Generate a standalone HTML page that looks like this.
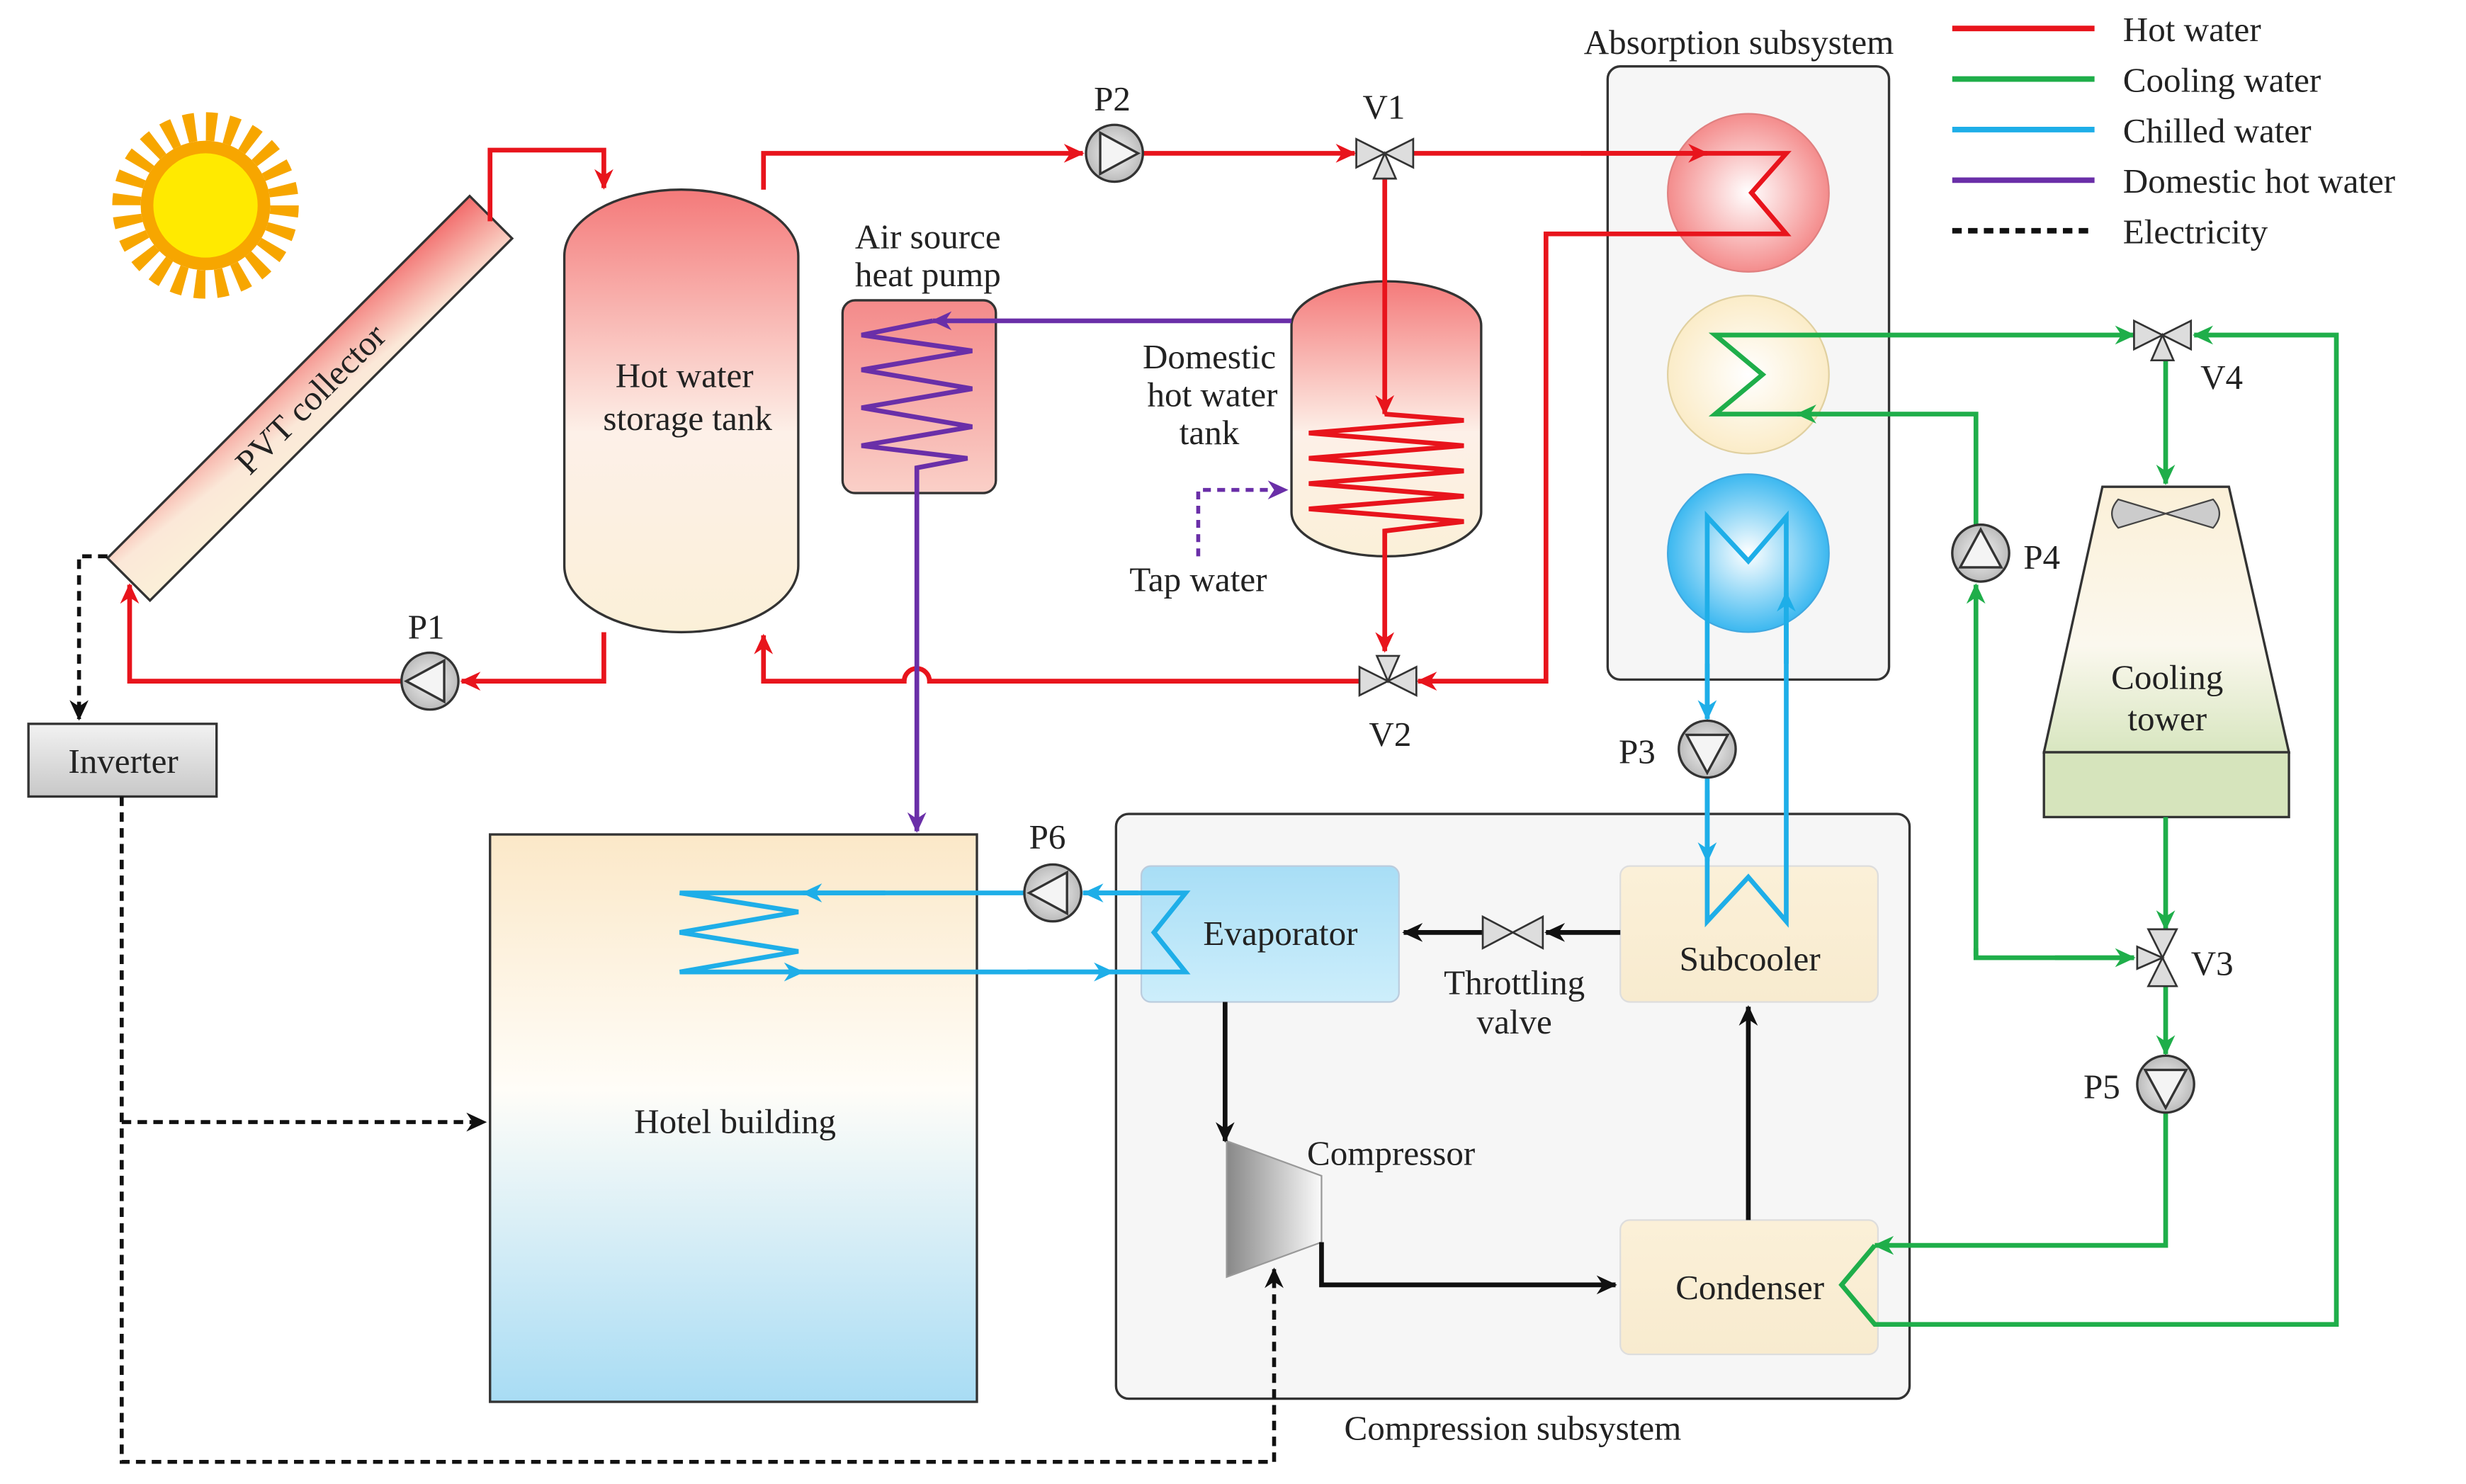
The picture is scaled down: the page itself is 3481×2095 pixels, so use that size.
<!DOCTYPE html>
<html><head><meta charset="utf-8"><style>html,body{margin:0;padding:0;background:#fff}svg{display:block}text{font-family:"Liberation Serif",serif;fill:#222}</style></head>
<body>
<svg width="3481" height="2095" viewBox="0 0 1560 939" preserveAspectRatio="none" xmlns="http://www.w3.org/2000/svg">
<defs>
<marker id="aR" markerUnits="userSpaceOnUse" markerWidth="14" markerHeight="12" refX="12" refY="6" orient="auto"><path d="M0,0 L13,6 L0,12 L4,6z" fill="#e8141c"/></marker>
<marker id="aG" markerUnits="userSpaceOnUse" markerWidth="14" markerHeight="12" refX="12" refY="6" orient="auto"><path d="M0,0 L13,6 L0,12 L4,6z" fill="#1fae4a"/></marker>
<marker id="aB" markerUnits="userSpaceOnUse" markerWidth="14" markerHeight="12" refX="12" refY="6" orient="auto"><path d="M0,0 L13,6 L0,12 L4,6z" fill="#1eaee8"/></marker>
<marker id="aP" markerUnits="userSpaceOnUse" markerWidth="14" markerHeight="12" refX="12" refY="6" orient="auto"><path d="M0,0 L13,6 L0,12 L4,6z" fill="#6a2fa8"/></marker>
<marker id="aK" markerUnits="userSpaceOnUse" markerWidth="14" markerHeight="12" refX="12" refY="6" orient="auto"><path d="M0,0 L13,6 L0,12 L4,6z" fill="#111"/></marker>
<linearGradient id="gTank" x1="0" y1="0" x2="0" y2="1"><stop offset="0" stop-color="#f47a7a"/><stop offset="0.55" stop-color="#fdf0e8"/><stop offset="1" stop-color="#fbf0d8"/></linearGradient>
<linearGradient id="gPVT" x1="1" y1="0" x2="0" y2="1"><stop offset="0" stop-color="#f26a6a"/><stop offset="0.6" stop-color="#fbe8d8"/><stop offset="1" stop-color="#fbf0d8"/></linearGradient>
<linearGradient id="gHotel" x1="0" y1="0" x2="0" y2="1"><stop offset="0" stop-color="#fbe8c8"/><stop offset="0.45" stop-color="#fffdf8"/><stop offset="1" stop-color="#a8dcf4"/></linearGradient>
<linearGradient id="gTower" x1="0" y1="0" x2="0" y2="1"><stop offset="0" stop-color="#fbf0d8"/><stop offset="0.6" stop-color="#fbf8ee"/><stop offset="1" stop-color="#d8e6c0"/></linearGradient>
<linearGradient id="gInv" x1="0" y1="0" x2="0" y2="1"><stop offset="0" stop-color="#f2f2f2"/><stop offset="1" stop-color="#c8c8c8"/></linearGradient>
<linearGradient id="gComp" x1="0" y1="0" x2="1" y2="0"><stop offset="0" stop-color="#888"/><stop offset="1" stop-color="#fafafa"/></linearGradient>
<linearGradient id="gAS" x1="0" y1="0" x2="0" y2="1"><stop offset="0" stop-color="#f48a8a"/><stop offset="1" stop-color="#fad0c8"/></linearGradient>
<radialGradient id="cR"><stop offset="0" stop-color="#fff"/><stop offset="1" stop-color="#f48c8c"/></radialGradient>
<radialGradient id="cY"><stop offset="0" stop-color="#fff"/><stop offset="1" stop-color="#fbecc8"/></radialGradient>
<radialGradient id="cB"><stop offset="0" stop-color="#fff"/><stop offset="1" stop-color="#3cb8f0"/></radialGradient>
<radialGradient id="gPump"><stop offset="0" stop-color="#f4f4f4"/><stop offset="1" stop-color="#bbb"/></radialGradient>
<linearGradient id="gSub" x1="0" y1="0" x2="0" y2="1"><stop offset="0" stop-color="#fbf0d8"/><stop offset="1" stop-color="#f8ebcf"/></linearGradient>
<linearGradient id="gEva" x1="0" y1="0" x2="0" y2="1"><stop offset="0" stop-color="#a8def6"/><stop offset="1" stop-color="#cdeefb"/></linearGradient>
</defs>

<circle cx="130" cy="130" r="50" fill="none" stroke="#f7a600" stroke-width="18" stroke-dasharray="6.5 6.6"/>
<circle cx="130" cy="130" r="41" fill="#f7a600"/>
<circle cx="130" cy="130" r="33" fill="#ffea00"/>

<g transform="translate(196,252) rotate(-45)">
<rect x="-162" y="-19" width="324" height="38" fill="url(#gPVT)" stroke="#333" stroke-width="1.5"/>
<text x="0" y="8" text-anchor="middle" font-size="22">PVT collector</text>
</g>

<g stroke-width="3.5">
<line x1="1235" y1="18" x2="1325" y2="18" stroke="#e8141c"/>
<line x1="1235" y1="50" x2="1325" y2="50" stroke="#1fae4a"/>
<line x1="1235" y1="82" x2="1325" y2="82" stroke="#1eaee8"/>
<line x1="1235" y1="114" x2="1325" y2="114" stroke="#6a2fa8"/>
<line x1="1235" y1="146" x2="1325" y2="146" stroke="#111" stroke-dasharray="6 4"/>
</g>
<g font-size="22">
<text x="1343" y="26">Hot water</text>
<text x="1343" y="58">Cooling water</text>
<text x="1343" y="90">Chilled water</text>
<text x="1343" y="122">Domestic hot water</text>
<text x="1343" y="154">Electricity</text>
</g>

<text x="1100" y="34" text-anchor="middle" font-size="22">Absorption subsystem</text>
<rect x="1017" y="42" width="178" height="388" rx="8" fill="#f6f6f6" stroke="#333" stroke-width="1.5"/>
<ellipse cx="1106" cy="122" rx="51" ry="50" fill="url(#cR)" stroke="#e08080"/>
<ellipse cx="1106" cy="237" rx="51" ry="50" fill="url(#cY)" stroke="#e0d0a0"/>
<ellipse cx="1106" cy="350" rx="51" ry="50" fill="url(#cB)" stroke="#40a8e0"/>

<rect x="357" y="120" width="148" height="280" rx="74" ry="42" fill="url(#gTank)" stroke="#333" stroke-width="1.5"/>
<text x="433" y="245" text-anchor="middle" font-size="22">Hot water</text>
<text x="435" y="272" text-anchor="middle" font-size="22">storage tank</text>

<text x="587" y="157" text-anchor="middle" font-size="22">Air source</text>
<text x="587" y="181" text-anchor="middle" font-size="22">heat pump</text>
<rect x="533" y="190" width="97" height="122" rx="8" fill="url(#gAS)" stroke="#333" stroke-width="1.5"/>

<rect x="817" y="178" width="120" height="174" rx="60" ry="28" fill="url(#gTank)" stroke="#333" stroke-width="1.5"/>
<text x="765" y="233" text-anchor="middle" font-size="22">Domestic</text>
<text x="767" y="257" text-anchor="middle" font-size="22">hot water</text>
<text x="765" y="281" text-anchor="middle" font-size="22">tank</text>
<text x="758" y="374" text-anchor="middle" font-size="22">Tap water</text>

<polygon points="1330,308 1410,308 1448,476 1293,476" fill="url(#gTower)" stroke="#333" stroke-width="1.5"/>
<rect x="1293" y="476" width="155" height="41" fill="#d6e4bc" stroke="#333" stroke-width="1.5"/>
<path d="M1370,325 L1340,316 Q1332,325 1340,334 Z M1370,325 L1400,316 Q1408,325 1400,334 Z" fill="#ccc" stroke="#444"/>
<text x="1371" y="436" text-anchor="middle" font-size="22">Cooling</text>
<text x="1371" y="462" text-anchor="middle" font-size="22">tower</text>

<rect x="18" y="458" width="119" height="46" fill="url(#gInv)" stroke="#333" stroke-width="1.5"/>
<text x="78" y="489" text-anchor="middle" font-size="22">Inverter</text>

<rect x="310" y="528" width="308" height="359" fill="url(#gHotel)" stroke="#333" stroke-width="1.5"/>
<text x="465" y="717" text-anchor="middle" font-size="22">Hotel building</text>

<rect x="706" y="515" width="502" height="370" rx="8" fill="#f6f6f6" stroke="#333" stroke-width="1.5"/>
<text x="957" y="911" text-anchor="middle" font-size="22">Compression subsystem</text>
<rect x="722" y="548" width="163" height="86" rx="6" fill="url(#gEva)" stroke="#bcd"/>
<rect x="1025" y="548" width="163" height="86" rx="6" fill="url(#gSub)" stroke="#ddd"/>
<rect x="1025" y="772" width="163" height="85" rx="6" fill="url(#gSub)" stroke="#ddd"/>
<text x="810" y="598" text-anchor="middle" font-size="22">Evaporator</text>
<text x="1107" y="614" text-anchor="middle" font-size="22">Subcooler</text>
<text x="1107" y="822" text-anchor="middle" font-size="22">Condenser</text>
<text x="958" y="629" text-anchor="middle" font-size="22">Throttling</text>
<text x="958" y="654" text-anchor="middle" font-size="22">valve</text>
<polygon points="776,722 836,744 836,786 776,808" fill="url(#gComp)" stroke="#999"/>
<text x="880" y="737" text-anchor="middle" font-size="22">Compressor</text>

<g stroke="#111" stroke-width="3" fill="none">
<line x1="775" y1="634" x2="775" y2="722" marker-end="url(#aK)"/>
<polyline points="836,786 836,813 1022,813" marker-end="url(#aK)"/>
<line x1="1106" y1="772" x2="1106" y2="637" marker-end="url(#aK)"/>
<line x1="1025" y1="590" x2="978" y2="590" marker-end="url(#aK)"/>
<line x1="938" y1="590" x2="888" y2="590" marker-end="url(#aK)"/>
</g>
<g fill="#ddd" stroke="#333" stroke-width="1.2">
<polygon points="938,580 938,600 957,590"/><polygon points="976,580 976,600 957,590"/>
</g>

<g stroke="#111" stroke-width="2.5" fill="none" stroke-dasharray="6 4">
<polyline points="68,352 50,352 50,455" marker-end="url(#aK)"/>
<polyline points="77,504 77,925 806,925 806,803" marker-end="url(#aK)"/>
<line x1="77" y1="710" x2="307" y2="710" marker-end="url(#aK)"/>
</g>
<polyline points="758,352 758,310 814,310" fill="none" stroke="#6a2fa8" stroke-width="2.5" stroke-dasharray="5 4" marker-end="url(#aP)"/>

<g stroke="#e8141c" stroke-width="3" fill="none">
<polyline points="310,140 310,95 382,95 382,119" marker-end="url(#aR)"/>
<polyline points="483,120 483,97 685,97" marker-end="url(#aR)"/>
<line x1="723" y1="97" x2="857" y2="97" marker-end="url(#aR)"/>
<line x1="894" y1="97" x2="1080" y2="97"/>
<line x1="1000" y1="97" x2="1080" y2="97" marker-end="url(#aR)"/>
<polyline points="1080,97 1130,97 1108,122 1130,148 978,148 978,431 897,431" marker-end="url(#aR)"/>
<line x1="876" y1="112" x2="876" y2="262" marker-end="url(#aR)"/>
<polyline points="876,262 926,266 828,274 926,282 828,290 926,298 828,306 926,314 828,322 926,330 876,336 876,412" marker-end="url(#aR)"/>
<path d="M860,431 L588,431 A8,8 0 0 0 572,431 L483,431 L483,402" marker-end="url(#aR)"/>
<polyline points="382,400 382,431 292,431" marker-end="url(#aR)"/>
<polyline points="254,431 82,431 82,370" marker-end="url(#aR)"/>
</g>

<g stroke="#6a2fa8" stroke-width="3" fill="none">
<polyline points="817,203 590,203" marker-end="url(#aP)"/>
<polyline points="590,203 545,212 615,222 545,234 615,246 545,258 615,270 545,282 612,290 580,296 580,526" marker-end="url(#aP)"/>
</g>

<g stroke="#1eaee8" stroke-width="3" fill="none">
<polyline points="1080,492 1080,583 1106,555 1130,583 1130,327 1106,355 1080,327 1080,455" />
<line x1="1080" y1="420" x2="1080" y2="455" marker-end="url(#aB)"/>
<line x1="1080" y1="500" x2="1080" y2="545" marker-end="url(#aB)"/>
<line x1="1130" y1="420" x2="1130" y2="375" marker-end="url(#aB)"/>
<polyline points="703,615 750,615 730,590 750,565 685,565"/>
<line x1="720" y1="565" x2="686" y2="565" marker-end="url(#aB)"/>
<polyline points="648,565 430,565 505,577 430,590 505,602 430,615 703,615"/>
<line x1="560" y1="565" x2="508" y2="565" marker-end="url(#aB)"/>
<line x1="470" y1="615" x2="508" y2="615" marker-end="url(#aB)"/>
<line x1="650" y1="615" x2="704" y2="615" marker-end="url(#aB)"/>
</g>

<g stroke="#1fae4a" stroke-width="3" fill="none">
<polyline points="1140,262 1085,262 1115,237 1085,212 1350,212" marker-end="url(#aG)"/>
<polyline points="1250,332 1250,262 1137,262" marker-end="url(#aG)"/>
<line x1="1250" y1="605" x2="1250" y2="370" marker-end="url(#aG)"/>
<polyline points="1350,606 1250,606 1250,600"/>
<line x1="1300" y1="606" x2="1350" y2="606" marker-end="url(#aG)"/>
<line x1="1370" y1="228" x2="1370" y2="306" marker-end="url(#aG)"/>
<line x1="1370" y1="517" x2="1370" y2="588" marker-end="url(#aG)"/>
<line x1="1370" y1="624" x2="1370" y2="667" marker-end="url(#aG)"/>
<polyline points="1370,704 1370,788 1186,788" marker-end="url(#aG)"/>
<polyline points="1186,788 1165,813 1186,838 1478,838 1478,212 1388,212" marker-end="url(#aG)"/>
</g>

<g fill="#ddd" stroke="#333" stroke-width="1.2">
<g transform="translate(876,97)"><polygon points="-18,-9 -18,9 0,0"/><polygon points="18,-9 18,9 0,0"/><polygon points="0,0 -7,16 7,16"/></g>
<g transform="translate(878,431) rotate(180)"><polygon points="-18,-9 -18,9 0,0"/><polygon points="18,-9 18,9 0,0"/><polygon points="0,0 -7,16 7,16"/></g>
<g transform="translate(1368,212)"><polygon points="-18,-9 -18,9 0,0"/><polygon points="18,-9 18,9 0,0"/><polygon points="0,0 -7,16 7,16"/></g>
<g transform="translate(1368,606) rotate(90)"><polygon points="-18,-9 -18,9 0,0"/><polygon points="18,-9 18,9 0,0"/><polygon points="0,0 -7,16 7,16"/></g>
</g>
<g font-size="22">
<text x="862" y="75">V1</text>
<text x="866" y="472">V2</text>
<text x="1386" y="617">V3</text>
<text x="1392" y="246">V4</text>
</g>

<g fill="url(#gPump)" stroke="#333" stroke-width="1.5">
<g transform="translate(272,431) rotate(180)"><circle r="18"/><polygon points="15,0 -9,-13 -9,13" fill="#f4f4f4"/></g>
<g transform="translate(705,97)"><circle r="18"/><polygon points="15,0 -9,-13 -9,13" fill="#f4f4f4"/></g>
<g transform="translate(1080,474) rotate(90)"><circle r="18"/><polygon points="15,0 -9,-13 -9,13" fill="#f4f4f4"/></g>
<g transform="translate(1253,350) rotate(-90)"><circle r="18"/><polygon points="15,0 -9,-13 -9,13" fill="#f4f4f4"/></g>
<g transform="translate(1370,686) rotate(90)"><circle r="18"/><polygon points="15,0 -9,-13 -9,13" fill="#f4f4f4"/></g>
<g transform="translate(666,565) rotate(180)"><circle r="18"/><polygon points="15,0 -9,-13 -9,13" fill="#f4f4f4"/></g>
</g>
<g font-size="22">
<text x="258" y="404">P1</text>
<text x="692" y="70">P2</text>
<text x="1024" y="483">P3</text>
<text x="1280" y="360">P4</text>
<text x="1318" y="695">P5</text>
<text x="651" y="537">P6</text>
</g>
</svg>
</body></html>
